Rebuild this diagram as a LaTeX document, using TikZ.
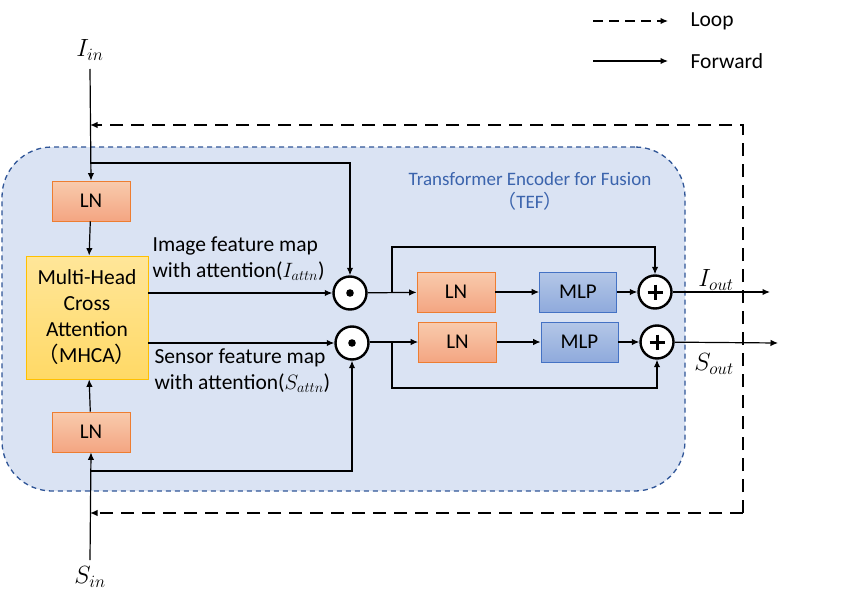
\documentclass[tikz,border=0pt]{standalone}
\usepackage{fontspec}
\setmainfont{Carlito}
\newfontfamily\cjkf{Noto Sans CJK SC}
\usetikzlibrary{arrows.meta,calc}
\definecolor{tefF}{HTML}{DAE3F3}
\definecolor{tefB}{HTML}{2F5597}
\definecolor{tefT}{HTML}{3B64AD}
\definecolor{lnT}{HTML}{F8CBAD}
\definecolor{lnBo}{HTML}{F4A582}
\definecolor{lnB}{HTML}{ED7D31}
\definecolor{mlpT}{HTML}{B4C7E7}
\definecolor{mlpBo}{HTML}{8FAADC}
\definecolor{mlpB}{HTML}{4472C4}
\definecolor{mhT}{HTML}{FFE699}
\definecolor{mhBo}{HTML}{FFD966}
\definecolor{mhB}{HTML}{FFC000}
\begin{document}
\begin{tikzpicture}[x=1pt,y=-1pt,line width=1.2pt,
  arr/.style={-{Latex[length=7.5pt,width=6.5pt]}},
  loopline/.style={line width=1.4pt,dash pattern=on 13pt off 8pt},
  lnbox/.style={draw=lnB,line width=0.8pt,top color=lnT,bottom color=lnBo,minimum width=78pt,minimum height=40pt,inner sep=0pt,font=\fontsize{21}{24}\selectfont},
  mlpbox/.style={draw=mlpB,line width=0.8pt,top color=mlpT,bottom color=mlpBo,minimum width=77pt,minimum height=40pt,inner sep=0pt,font=\fontsize{21}{24}\selectfont},
  mhbox/.style={draw=mhB,line width=0.8pt,top color=mhT,bottom color=mhBo,minimum width=122pt,minimum height=123pt,inner sep=0pt,align=center,font=\fontsize{21.5}{26}\selectfont},
  circ/.style={circle,draw=black,fill=white,line width=2.4pt,minimum size=33pt,inner sep=0pt},
  lbl/.style={font=\fontsize{21.5}{26}\selectfont,align=left,inner sep=0pt},
  mlbl/.style={font=\fontsize{23}{26}\selectfont,inner sep=1pt}]
\useasboundingbox (0,0) rectangle (859,594);
% TEF background
\node[draw=tefB,fill=tefF,line width=1.3pt,dash pattern=on 5pt off 4pt,rounded corners=50pt,minimum width=683pt,minimum height=344pt,inner sep=0pt] (tef) at (343.5,319) {};
\node[text=tefT,font=\fontsize{19}{22}\selectfont,inner sep=0pt] (teft) at (530,179) {Transformer Encoder for Fusion};
\node[text=tefT,font=\fontsize{19}{22}\selectfont,inner sep=0pt] (tefl) at (530,201) {{\cjkf（}TEF{\cjkf）}};
% legend
\coordinate (lga) at (593,21); \coordinate (lgb) at (668,21);
\coordinate (lgc) at (593,61); \coordinate (lgd) at (668,61);
\draw[arr,dash pattern=on 10pt off 6pt] (lga) -- (lgb);
\draw[arr] (lgc) -- (lgd);
\node[anchor=west,font=\fontsize{21.5}{24}\selectfont,inner sep=0pt] (lgl) at (690,21) {Loop};
\node[anchor=west,font=\fontsize{21.5}{24}\selectfont,inner sep=0pt] (lgf) at (690,61) {Forward};
% left blocks
\node[lnbox] (ln1) at (91,201) {LN};
\node[mhbox] (mh) at (87,317.5) {Multi-Head\\Cross\\Attention\\{\cjkf（}MHCA{\cjkf）}};
\node[lnbox] (ln2) at (91,432) {LN};
\node[mlbl] (iin) at (90,50) {$I_{in}$};
\node[mlbl] (sin) at (90,577) {$S_{in}$};
\coordinate (iina) at (90,69);
\coordinate (sina) at (90,560);
\draw[arr] (iina) -- (ln1.north);
\draw[arr] (ln1) -- (mh);
\draw[arr] (sina) -- (ln2.south);
\draw[arr] (ln2) -- (mh);
% odot circles
\node[circ] (od1) at (350,293) {};
\node[circ] (od2) at (352,343) {};
\fill (od1) circle (3.8pt);
\fill (od2) circle (3.8pt);
\coordinate (b1) at (90,163);
\coordinate (b2) at (90,471);
\draw[arr] (b1) -| (od1);
\draw[arr] (b2) -| (od2);
\draw[arr] (mh.east |- od1) -- (od1);
\draw[arr] (mh.east |- od2) -- (od2);
\node[lbl,anchor=west] (il) at (152,259) {Image feature map\\with attention($I_{attn}$)};
\node[lbl,anchor=west] (sl) at (154,371) {Sensor feature map\\with attention($S_{attn}$)};
% right part row 1
\node[lnbox] (ln3) at (456,292) {LN};
\node[mlpbox] (mlp1) at (578,292) {MLP};
\node[circ] (p1) at (655,292) {};
\draw[line width=3pt] ($(p1)+(-7.5,0)$) -- ($(p1)+(7.5,0)$) ($(p1)+(0,-7.5)$) -- ($(p1)+(0,7.5)$);
\draw[arr] (od1) -- (ln3);
\draw[arr] (ln3) -- (mlp1);
\draw[arr] (mlp1) -- (p1);
\coordinate (j1) at (392,292); \coordinate (t1) at (392,247);
\draw[arr] (j1) -- (t1) -| (p1);
% row 2
\node[lnbox] (ln4) at (457.5,342) {LN};
\node[mlpbox] (mlp2) at (579.5,342) {MLP};
\node[circ] (p2) at (657,342) {};
\draw[line width=3pt] ($(p2)+(-7.5,0)$) -- ($(p2)+(7.5,0)$) ($(p2)+(0,-7.5)$) -- ($(p2)+(0,7.5)$);
\draw[arr] (od2.east |- ln4) -- (ln4);
\draw[arr] (ln4) -- (mlp2);
\draw[arr] (mlp2) -- (p2);
\coordinate (j2) at (392,342); \coordinate (t2) at (392,388);
\draw[arr] (j2) -- (t2) -| (p2);
% outputs
\coordinate (o1) at (770,292); \coordinate (o2) at (778,343);
\draw[arr] (p1) -- (o1);
\draw[arr] (p2) -- (o2);
\node[mlbl] (iout) at (716,280) {$I_{out}$};
\node[mlbl] (sout) at (714,364) {$S_{out}$};
% loop
\coordinate (lr1) at (743,125); \coordinate (lr2) at (743,513);
\coordinate (ll1) at (90,125); \coordinate (ll2) at (90,513);
\draw[arr,loopline] (lr2) -- (lr1) -- (ll1);
\draw[arr,loopline] (lr2) -- (ll2);
\end{tikzpicture}
\end{document}
